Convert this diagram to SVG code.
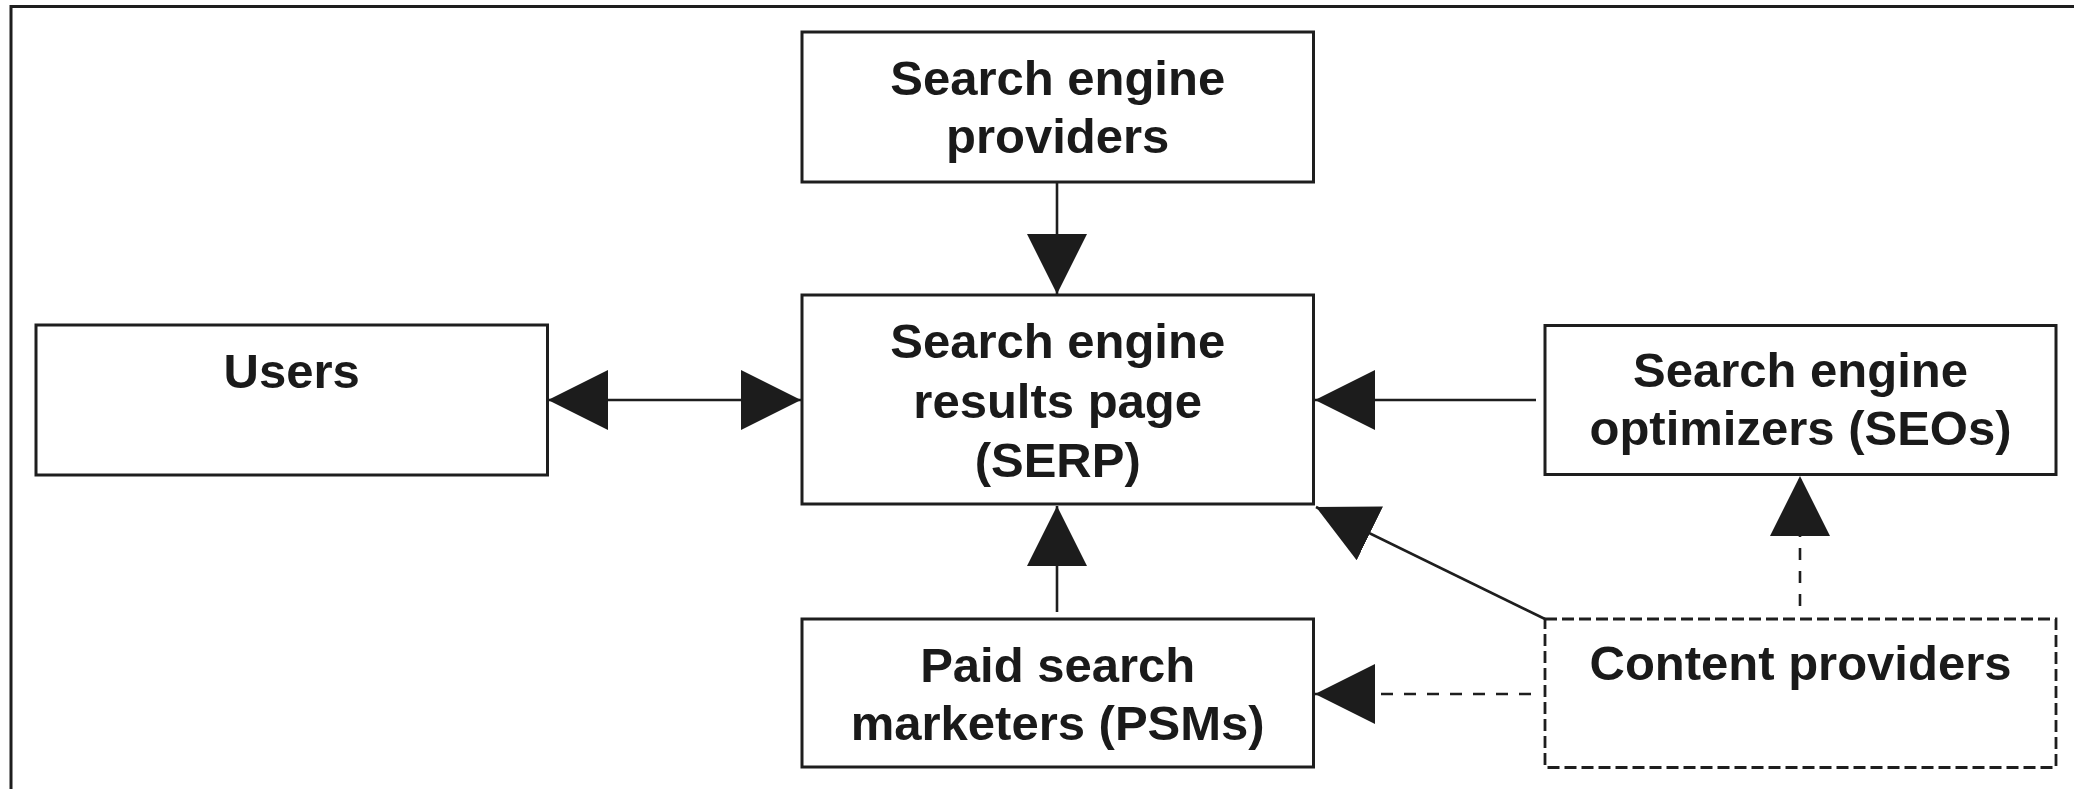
<svg xmlns="http://www.w3.org/2000/svg" width="2074" height="789" viewBox="0 0 2074 789">
  <defs>
    <style>
      .box { fill: #ffffff; stroke: #1e1e1e; stroke-width: 3; }
      .dbox { fill: #ffffff; stroke: #1e1e1e; stroke-width: 2.8; stroke-dasharray: 12 5; }
      .lbl { font-family: "Liberation Sans", Arial, sans-serif; font-weight: bold; font-size: 49px; fill: #1a1a1a; text-anchor: middle; }
      .conn { fill: none; stroke: #1e1e1e; stroke-width: 2.6; }
      .dash { stroke-dasharray: 12 11; }
      .frame { fill: none; stroke: #1e1e1e; stroke-width: 3; }
    </style>
    <marker id="ah" viewBox="0 0 60 60" markerWidth="60" markerHeight="60" refX="60" refY="30" orient="auto-start-reverse" markerUnits="userSpaceOnUse">
      <path d="M0,0 L60,30 L0,60 Z" fill="#1c1c1c" stroke="none"/>
    </marker>
  </defs>
  <rect x="0" y="0" width="2074" height="789" fill="#ffffff"/>
  <path class="frame" d="M11,789 V6.5 H2074"/>

  <g id="connectors">
    <line class="conn" x1="1057" y1="182" x2="1057" y2="294" marker-end="url(#ah)"/>
    <line class="conn" x1="548" y1="400" x2="801" y2="400" marker-start="url(#ah)" marker-end="url(#ah)"/>
    <line class="conn" x1="1536" y1="400" x2="1315" y2="400" marker-end="url(#ah)"/>
    <line class="conn" x1="1057" y1="612" x2="1057" y2="506" marker-end="url(#ah)"/>
    <line class="conn" x1="1545" y1="619" x2="1316" y2="507" marker-end="url(#ah)"/>
    <line class="conn dash" x1="1531" y1="694" x2="1315" y2="694" marker-end="url(#ah)"/>
    <line class="conn dash" x1="1800" y1="606" x2="1800" y2="476" marker-end="url(#ah)"/>
  </g>

  <g id="search-engine-providers">
    <rect class="box" x="802" y="32" width="511.5" height="150"/>
    <text class="lbl" x="1057.7" y="95">Search engine</text>
    <text class="lbl" x="1057.7" y="153">providers</text>
  </g>

  <g id="serp">
    <rect class="box" x="802" y="295" width="511.5" height="209"/>
    <text class="lbl" x="1057.7" y="358">Search engine</text>
    <text class="lbl" x="1057.7" y="418">results page</text>
    <text class="lbl" x="1057.7" y="477">(SERP)</text>
  </g>

  <g id="users">
    <rect class="box" x="36" y="325" width="511.5" height="150"/>
    <text class="lbl" x="291.7" y="388">Users</text>
  </g>

  <g id="seos">
    <rect class="box" x="1545" y="325.5" width="511" height="149"/>
    <text class="lbl" x="1800.5" y="386.7">Search engine</text>
    <text class="lbl" x="1800.5" y="445">optimizers (SEOs)</text>
  </g>

  <g id="psms">
    <rect class="box" x="802" y="619" width="511.5" height="148"/>
    <text class="lbl" x="1057.7" y="681.7">Paid search</text>
    <text class="lbl" x="1057.7" y="740">marketers (PSMs)</text>
  </g>

  <g id="content-providers">
    <rect class="dbox" x="1545" y="619" width="511" height="148.5"/>
    <text class="lbl" x="1800.5" y="680">Content providers</text>
  </g>
</svg>
